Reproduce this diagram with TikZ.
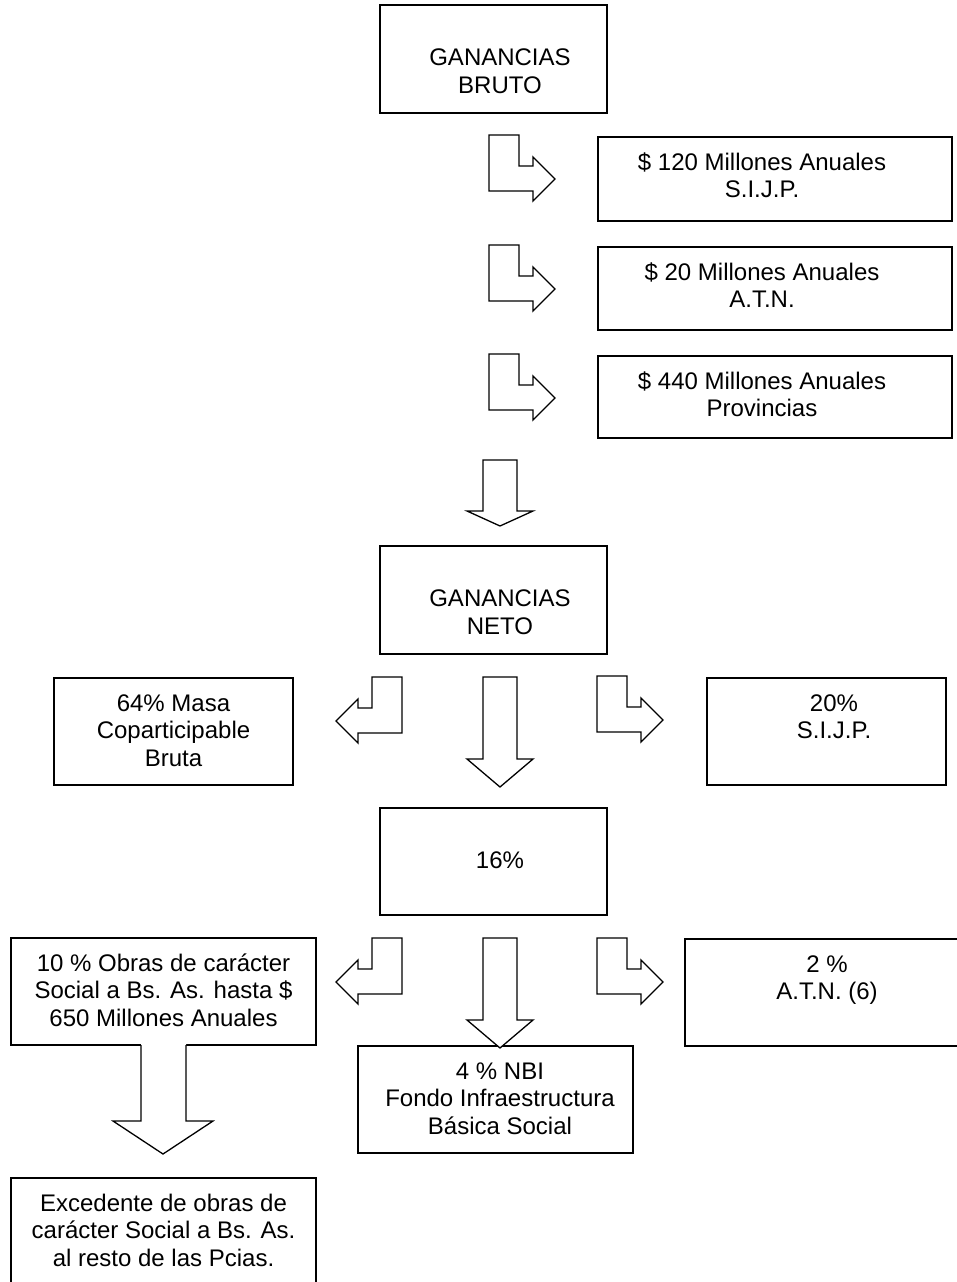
\documentclass[tikz,border=0pt]{standalone}
\usepackage{fontspec}
\setmainfont{Liberation Sans}
\usetikzlibrary{calc}
\begin{document}
\begin{tikzpicture}[x=1pt,y=-1pt,
  box/.style={draw, line width=1.3pt, inner sep=0pt, outer sep=0pt, anchor=north west},
  txt/.style={align=center, inner sep=0pt, anchor=north, font=\fontsize{24}{27.6}\selectfont},
  blockarrow/.style={draw, fill=white, line width=1.3pt, line join=miter},
  rbent/.pic={\draw[blockarrow] (0,0) -- ++(30,0) -- ++(0,31) -- ++(14,0) -- ++(0,-9) -- ++(22,22) -- ++(-22,22) -- ++(0,-10) -- ++(-44,0) -- cycle;},
  lbent/.pic={\draw[blockarrow] (0,0) -- ++(-30,0) -- ++(0,31) -- ++(-14,0) -- ++(0,-9) -- ++(-22,22) -- ++(22,22) -- ++(0,-10) -- ++(44,0) -- cycle;}
]
\useasboundingbox (0,0) rectangle (957,1282);
\fill[white] (0,0) rectangle (957,1282);

% boxes
\node[box, minimum width=227pt, minimum height=108pt] (b1) at (380,5) {};
\node[box, minimum width=354pt, minimum height=84pt] (b2) at (598,137) {};
\node[box, minimum width=354pt, minimum height=83pt] (b3) at (598,247) {};
\node[box, minimum width=354pt, minimum height=82pt] (b4) at (598,356) {};
\node[box, minimum width=227pt, minimum height=108pt] (b5) at (380,546) {};
\node[box, minimum width=239pt, minimum height=107pt] (b6) at (54,678) {};
\node[box, minimum width=239pt, minimum height=107pt] (b7) at (707,678) {};
\node[box, minimum width=227pt, minimum height=107pt] (b8) at (380,808) {};
\node[box, minimum width=305pt, minimum height=107pt] (b9) at (11,938) {};
\node[box, minimum width=285pt, minimum height=107pt] (b10) at (685,939) {};
\node[box, minimum width=275pt, minimum height=107pt] (b11) at (358,1046) {};
\node[box, minimum width=305pt, minimum height=120pt] (b12) at (11,1178) {};

% texts
\node[txt] (t1) at (500,46.4) {\strut GANANCIAS\\\strut BRUTO};
\node[txt] (t2) at (762,150.8) {\strut \$ 120 Millones Anuales\\\strut S.I.J.P.};
\node[txt] (t3) at (762,260.8) {\strut \$ 20 Millones Anuales\\\strut A.T.N.};
\node[txt] (t4) at (762,369.8) {\strut \$ 440 Millones Anuales\\\strut Provincias};
\node[txt] (t5) at (500,587.4) {\strut GANANCIAS\\\strut NETO};
\node[txt] (t6) at (173.5,691.8) {\strut 64\% Masa\\\strut Coparticipable\\\strut Bruta};
\node[txt] (t7) at (834,691.8) {\strut 20\%\\\strut S.I.J.P.};
\node[txt] (t8) at (500,849.4) {\strut 16\%};
\node[txt] (t9) at (163.5,951.8) {\strut 10 \% Obras de carácter\\\strut Social a Bs. As. hasta \$\\\strut 650 Millones Anuales};
\node[txt] (t10) at (827,952.8) {\strut 2 \%\\\strut A.T.N. (6)};
\node[txt] (t11) at (500,1059.8) {\strut 4 \% NBI\\\strut Fondo Infraestructura\\\strut Básica Social};
\node[txt] (t12) at (163.5,1191.8) {\strut Excedente de obras de\\\strut carácter Social a Bs. As.\\\strut al resto de las Pcias.};

% bent arrows
\pic at (489,135) {rbent};
\pic at (489,245) {rbent};
\pic at (489,354) {rbent};
\pic at (402,677) {lbent};
\pic at (597,676) {rbent};
\pic at (402,938) {lbent};
\pic at (597,938) {rbent};

% down arrows
\draw[blockarrow] (483,460) -- (517,460) -- (517,511) -- (533,511) -- (500,526) -- (467,511) -- (483,511) -- cycle;
\draw[blockarrow] (483,677) -- (517,677) -- (517,759) -- (533,759) -- (500,787) -- (467,759) -- (483,759) -- cycle;
\draw[blockarrow] (483,938) -- (517,938) -- (517,1020) -- (533,1020) -- (500,1048) -- (467,1020) -- (483,1020) -- cycle;
\fill[white] (141,1043) -- (186,1043) -- (186,1121) -- (213,1121) -- (163,1154) -- (113,1121) -- (141,1121) -- cycle;
\draw[line width=1.3pt, line join=miter] (141,1045) -- (141,1121) -- (113,1121) -- (163,1154) -- (213,1121) -- (186,1121) -- (186,1045);
\end{tikzpicture}
\end{document}
